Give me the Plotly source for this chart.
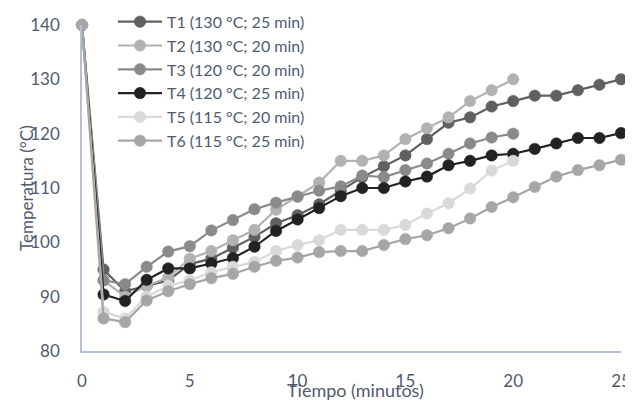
import plotly.graph_objects as go

t_25 = list(range(0, 26))
t_20 = list(range(0, 21))

names = ["T1 (130 °C; 25 min)", "T2 (130 °C; 20 min)", "T3 (120 °C; 20 min)",
         "T4 (120 °C; 25 min)", "T5 (115 °C; 20 min)", "T6 (115 °C; 25 min)"]

T1 = [140, 95, 91, 92, 93, 96, 97, 99, 101, 103.5, 105, 107, 109.5, 112, 114, 116, 119, 122, 123, 125, 126, 127, 127, 128, 129, 130]
T2 = [140, 93, 90, 92, 93.5, 97, 98.4, 100.4, 102.3, 106, 108.5, 111, 115, 115, 116, 119, 121, 123, 126, 128, 130]
T3 = [140, 93, 92.3, 95.5, 98.3, 99.3, 102.2, 104.1, 106.1, 107.3, 108.4, 109.5, 110.3, 112.3, 112, 113.3, 114.5, 116.3, 118.2, 119.3, 120]
T4 = [140, 90.4, 89.2, 93.1, 95.2, 95.2, 96.1, 97.1, 99.2, 102.1, 104.2, 106.3, 108.5, 110, 110, 111.2, 112.1, 114.2, 115, 116, 116.3, 117.2, 118.2, 119.2, 119.2, 120.1]
T5 = [140, 87.2, 86, 90, 92, 93, 94.5, 95.5, 96.4, 98.4, 99.5, 100.4, 102.3, 102.3, 102.3, 103.2, 105.3, 107.2, 109.9, 113.2, 115]
T6 = [140, 86, 85.3, 89.3, 91, 92.3, 93.4, 94.2, 95.5, 96.6, 97.2, 98.2, 98.4, 98.4, 99.5, 100.6, 101.3, 102.6, 104.4, 106.5, 108.3, 110.2, 112.1, 113.3, 114.2, 115.2]

series = [(t_25, T1, "#606060"), (t_20, T2, "#b2b2b2"), (t_20, T3, "#8a8a8a"),
          (t_25, T4, "#222222"), (t_20, T5, "#d9d9d9"), (t_25, T6, "#a6a6a6")]

fig = go.Figure()
for name, (x, y, c) in zip(names, series):
    fig.add_trace(go.Scatter(
        x=x, y=y, name=name, mode="lines+markers",
        line=dict(color=c, width=2.2),
        marker=dict(color=c, size=11.5, line=dict(color=c, width=0.5)),
        cliponaxis=False,
    ))

txt = "#4f5b6e"
axis_col = "#b4c0d4"

# page body has an 8px margin; figure is sized so the plot area lands where the reference has it
fig.update_layout(
    width=625, height=392,
    margin=dict(l=74, r=12, t=17, b=49, autoexpand=False),
    paper_bgcolor="white", plot_bgcolor="white",
    font=dict(family="Lato", size=16, color=txt),
    showlegend=True,
    legend=dict(x=0.0575, y=1.062, xanchor="left", yanchor="top",
                bgcolor="rgba(0,0,0,0)", font=dict(size=16, color=txt),
                itemwidth=44, tracegroupgap=0),
    xaxis=dict(range=[0, 25], tickvals=[0, 5, 10, 15, 20, 25], showgrid=False,
               zeroline=False, showline=True, linecolor=axis_col, linewidth=1.5,
               ticks="", tickfont=dict(size=17, color=txt), ticklabelstandoff=14,
               automargin=False),
    yaxis=dict(range=[80, 140], tickvals=[80, 90, 100, 110, 120, 130, 140], showgrid=False,
               zeroline=False, showline=True, linecolor=axis_col, linewidth=1.5,
               ticks="", tickfont=dict(size=17, color=txt), ticklabelstandoff=17,
               automargin=False),
    annotations=[
        dict(text="Tiempo (minutos)", xref="paper", yref="paper", x=0.507, y=0,
             xanchor="center", yanchor="middle", yshift=-39, showarrow=False,
             font=dict(size=18, color=txt)),
        dict(text="Temperatura (°C)", xref="paper", yref="paper", x=0, y=0.5,
             xanchor="center", yanchor="middle", xshift=-56, textangle=-90,
             showarrow=False, font=dict(size=17, color=txt)),
    ],
)

fig.write_html("out.html")
